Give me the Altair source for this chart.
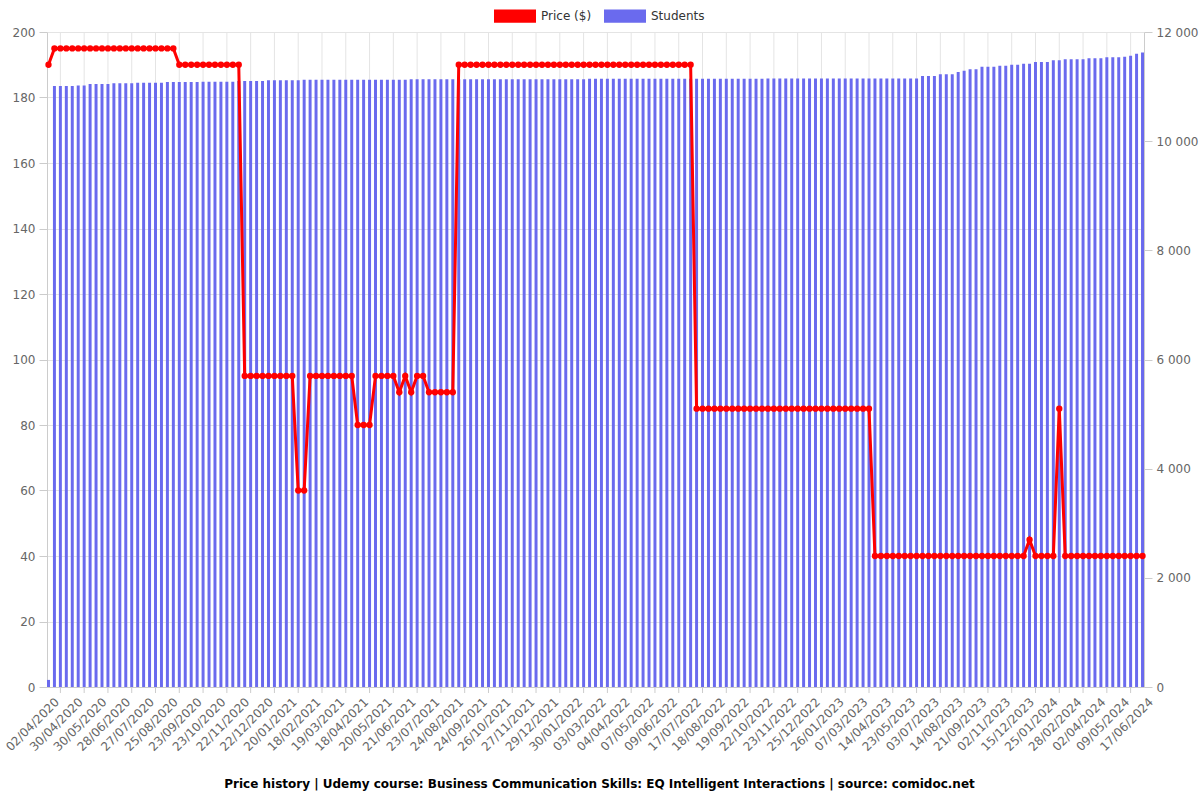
import json
import altair as alt
import pandas as pd

# ---------------- data ----------------
date_labels = [
    "02/04/2020", "30/04/2020", "30/05/2020", "28/06/2020", "27/07/2020", "25/08/2020",
    "23/09/2020", "23/10/2020", "22/11/2020", "22/12/2020", "20/01/2021", "18/02/2021",
    "19/03/2021", "18/04/2021", "20/05/2021", "21/06/2021", "23/07/2021", "24/08/2021",
    "24/09/2021", "26/10/2021", "27/11/2021", "29/12/2021", "30/01/2022", "03/03/2022",
    "04/04/2022", "07/05/2022", "09/06/2022", "17/07/2022", "18/08/2022", "19/09/2022",
    "22/10/2022", "23/11/2022", "25/12/2022", "26/01/2023", "07/03/2023", "14/04/2023",
    "23/05/2023", "03/07/2023", "14/08/2023", "21/09/2023", "02/11/2023", "15/12/2023",
    "25/01/2024", "28/02/2024", "02/04/2024", "09/05/2024", "17/06/2024",
]

# (value, number of consecutive observations)
price_runs = [
    (190, 1), (195, 21), (190, 11), (95, 9), (60, 2), (95, 8), (80, 3), (95, 4),
    (90, 1), (95, 1), (90, 1), (95, 2), (90, 5), (190, 40), (85, 30), (40, 26),
    (45, 1), (40, 4), (85, 1), (40, 14),
]

student_runs = [
    (130, 1), (11010, 4), (11022, 2), (11047, 4), (11060, 4), (11072, 5), (11084, 6),
    (11090, 6), (11102, 5), (11115, 6), (11125, 18), (11135, 30), (11142, 30),
    (11150, 26), (11194, 3), (11225, 3), (11267, 1), (11291, 1), (11316, 2),
    (11364, 3), (11383, 2), (11401, 2), (11419, 2), (11450, 3), (11481, 2),
    (11499, 4), (11517, 3), (11536, 3), (11548, 1), (11566, 1), (11603, 1), (11625, 1),
]

series_names = ["Price ($)", "Students"]
series_colors = ["#ff0000", "#6a6aee"]

title_text = ("Price history | Udemy course: Business Communication Skills: "
              "EQ Intelligent Interactions | source: comidoc.net")


def expand(runs):
    out = []
    for v, n in runs:
        out.extend([v] * n)
    return out


price = expand(price_runs)
students = expand(student_runs)
idx = list(range(len(price)))

df = pd.DataFrame({"i": idx, "price": price, "students": students, "series": "Students"})
grid_df = pd.DataFrame({"i": idx[2::4]})

# ---------------- chart ----------------
W, H = 1097, 655
FONT = "DejaVu Sans"
GRID = "#e4e4e4"
AXC = "#cccccc"
LAB = "#666666"

xscale = alt.Scale(type="band", domain=idx, paddingInner=0.5, paddingOuter=0)
label_expr = json.dumps(date_labels) + "[floor(datum.value / 4)]"
xaxis = alt.Axis(values=idx[::4], labelExpr=label_expr, labelAngle=-45, labelFontSize=12,
                 labelColor=LAB, labelFont=FONT, ticks=False, grid=False, domainColor=AXC,
                 title=None, labelPadding=9, labelOffset=5, labelOverlap=False)

vgrid = alt.Chart(grid_df).mark_rule(color=GRID, strokeWidth=1).encode(
    x=alt.X("i:O", scale=xscale, axis=xaxis, bandPosition=0.5)
)
xticks = alt.Chart(grid_df).mark_rule(color=AXC, strokeWidth=1).encode(
    x=alt.X("i:O", scale=xscale, axis=xaxis, bandPosition=0.5),
    y=alt.value(H),
    y2=alt.value(H + 6),
)

bars = alt.Chart(df).mark_bar().encode(
    x=alt.X("i:O", scale=xscale, axis=xaxis),
    y=alt.Y("students:Q", scale=alt.Scale(domain=[0, 12000], nice=False),
            axis=alt.Axis(orient="right", values=list(range(0, 12001, 2000)),
                          labelExpr="replace(format(datum.value, ','), ',', ' ')",
                          grid=False, title=None, labelFontSize=12, labelColor=LAB,
                          labelFont=FONT, domainColor=AXC, tickColor=AXC, tickSize=8,
                          labelPadding=4)),
    color=alt.Color("series:N",
                    scale=alt.Scale(domain=series_names, range=series_colors),
                    legend=alt.Legend(orient="none", legendX=447, legendY=-37,
                                      direction="horizontal", title=None,
                                      symbolType="M-1,-0.32H1V0.32H-1Z", symbolSize=1764,
                                      symbolStrokeWidth=0, symbolOpacity=1,
                                      labelFontSize=12, labelFont=FONT, labelColor="#333333",
                                      columnPadding=12, labelOffset=5)),
)

line = alt.Chart(df).mark_line(
    color="#ff0000", strokeWidth=3,
    point=alt.OverlayMarkDef(color="#ff0000", size=40, filled=True, opacity=1),
).encode(
    x=alt.X("i:O", scale=xscale, axis=xaxis, bandPosition=0.5),
    y=alt.Y("price:Q", scale=alt.Scale(domain=[0, 200], nice=False),
            axis=alt.Axis(orient="left", values=list(range(0, 201, 20)), grid=True,
                          gridColor=GRID, title=None, labelFontSize=12, labelColor=LAB,
                          labelFont=FONT, domainColor=AXC, tickColor=AXC, tickSize=8,
                          labelPadding=4)),
)

chart = alt.layer(vgrid, xticks, bars, line).resolve_scale(y="independent").properties(
    width=W, height=H,
    title=alt.TitleParams(title_text, orient="bottom", anchor="middle", fontSize=12,
                          fontWeight="bold", font=FONT, color="#000000", offset=26, dx=4),
    autosize=alt.AutoSizeParams(type="none"),
    padding={"left": 47, "top": 32, "right": 56, "bottom": 113},
).configure_view(stroke=None)

chart.save("out.html", embed_options={"renderer": "svg", "actions": False})
